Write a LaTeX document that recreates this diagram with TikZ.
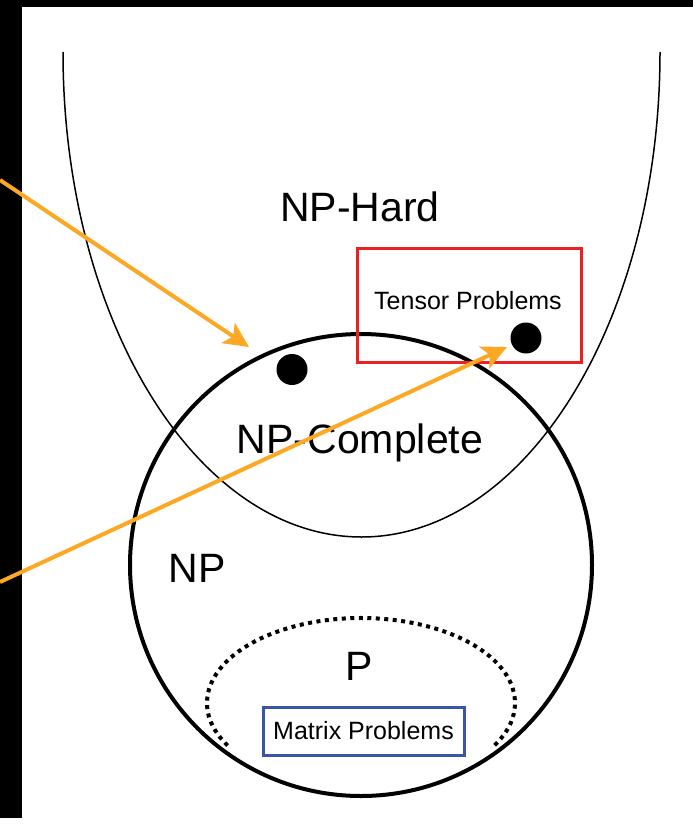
\documentclass[tikz,border=0pt]{standalone}
\usepackage{fontspec}
\setmainfont{Liberation Sans}
\usetikzlibrary{arrows.meta}
\definecolor{arroworange}{RGB}{252,168,36}
\definecolor{boxred}{RGB}{237,30,36}
\definecolor{boxblue}{RGB}{57,85,163}
\tikzset{
  big/.style={font=\fontsize{41}{48}\selectfont, inner sep=0pt, anchor=base},
  small/.style={font=\fontsize{25}{30}\selectfont, inner sep=0pt},
  pointer/.style={draw=arroworange, line width=4pt,
    -{Stealth[length=25pt, width=24pt, inset=6pt]}},
  dotnode/.style={circle, fill=black, minimum size=31pt, inner sep=0pt},
}
\begin{document}
\begin{tikzpicture}[x=1pt, y=-1pt]
\useasboundingbox (0,0) rectangle (693,827);
\fill[white] (0,0) rectangle (693,827);
% black frame strips
\fill[black] (0,0) rectangle (22,818);
\fill[black] (0,0) rectangle (693,7);
% NP-Hard open ellipse
\draw[line width=1.5pt] (63,52) arc[start angle=180, end angle=0, x radius=298.5, y radius=485];
% NP circle
\draw[line width=4pt] (361,565) circle[radius=231];
% P dotted ellipse (upper part, inside NP)
\begin{scope}
  \clip (361,565) circle[radius=229];
  \draw[line width=4pt, dash pattern=on 4pt off 4.5pt]
    (361,703) ++(150:154 and 85) arc[start angle=150, end angle=390, x radius=154, y radius=85];
\end{scope}
% boxes
\node[draw=boxred, line width=3pt, minimum width=224pt, minimum height=114pt, inner sep=0pt] (tensorbox) at (469,305) {};
\node[small] (tensorlabel) at (468,301) {Tensor Problems};
\node[draw=boxblue, line width=3pt, minimum width=201pt, minimum height=48pt, inner sep=0pt, font=\fontsize{25}{30}\selectfont] (matrixbox) at (363.5,731) {Matrix Problems};
% labels
\node[big] (nphard) at (360,221) {NP-Hard};
\node[big] (npcomplete) at (360,453) {NP-Complete};
\node[big] (np) at (197,582) {NP};
\node[big] (p) at (359,680) {P};
% dots
\node[dotnode] (dotA) at (292,369.5) {};
\node[dotnode] (dotB) at (526,338) {};
% arrows
\coordinate (startA) at (0,180);
\coordinate (tipA) at (249,347);
\coordinate (startB) at (0,582);
\coordinate (tipB) at (507,347);
\draw[pointer] (startA) -- (tipA);
\draw[pointer] (startB) -- (tipB);
\end{tikzpicture}
\end{document}
